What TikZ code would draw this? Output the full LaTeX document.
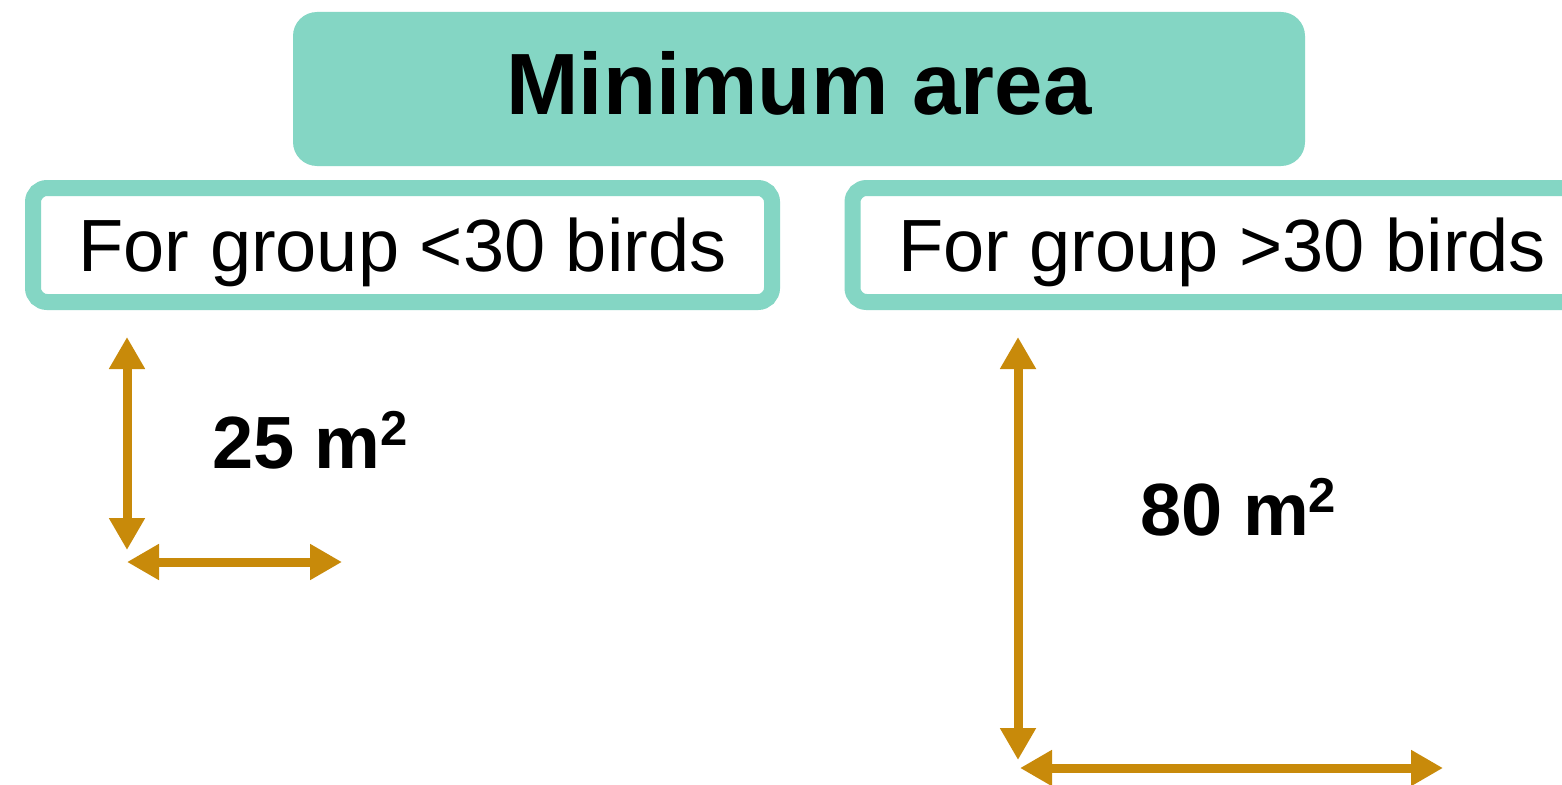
\documentclass[tikz,border=0pt]{standalone}
\usepackage{fontspec}
\setmainfont{Liberation Sans}
\usetikzlibrary{arrows.meta}
\definecolor{teal}{RGB}{132,214,196}
\definecolor{gold}{RGB}{200,138,10}
\tikzset{
  titlebox/.style={fill=teal, rounded corners=24pt, minimum width=1012pt, minimum height=154pt, inner sep=0pt,
    font=\fontsize{87}{96}\selectfont\bfseries, text height=62pt, text depth=12pt},
  groupbox/.style={draw=teal, line width=16pt, fill=white, rounded corners=14pt, minimum width=739pt, minimum height=114pt,
    inner sep=0pt, font=\fontsize{74}{80}\selectfont, text height=53pt, text depth=0pt},
  dimarrow/.style={draw=gold, line width=9pt, {Triangle[width=34pt,length=32pt]}-{Triangle[width=34pt,length=32pt]}},
  arealabel/.style={anchor=base west, inner sep=0pt, font=\fontsize{74}{80}\selectfont\bfseries},
}
\newcommand{\sqm}{\raisebox{23pt}{\fontsize{49}{50}\selectfont 2}}
\begin{document}
\begin{tikzpicture}[x=1pt,y=-1pt]
\clip (0,0) rectangle (1562,784);
\fill[white] (0,0) rectangle (1562,784);
\node[titlebox] (title) at (799,89) {Minimum area};
\node[groupbox] (g1) at (402.5,245) {For group <30 birds};
\node[groupbox] (g2) at (1222,245) {For group >30 birds};
\coordinate (v1t) at (127,337);
\coordinate (v1b) at (127,550);
\coordinate (h1l) at (127,562);
\coordinate (h1r) at (342,562);
\coordinate (v2t) at (1018,337);
\coordinate (v2b) at (1018,760);
\coordinate (h2l) at (1020,768);
\coordinate (h2r) at (1443,768);
\draw[dimarrow] (v1t) -- (v1b);
\draw[dimarrow] (h1l) -- (h1r);
\draw[dimarrow] (v2t) -- (v2b);
\draw[dimarrow] (h2l) -- (h2r);
\node[arealabel] (a1) at (212,468) {25 m\sqm};
\node[arealabel] (a2) at (1140,535) {80 m\sqm};
\end{tikzpicture}
\end{document}
